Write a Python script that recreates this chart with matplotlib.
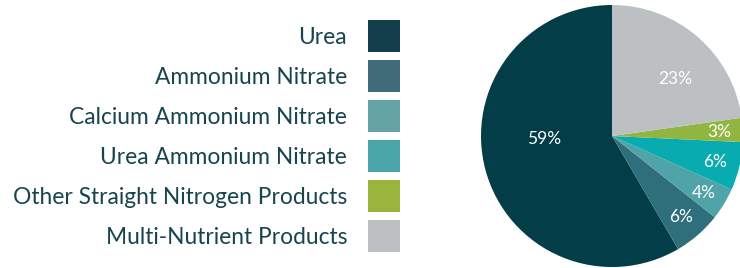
import numpy as np
import matplotlib.pyplot as plt
from matplotlib.patches import Rectangle

plt.rcParams['font.family'] = ['Lato', 'DejaVu Sans']

# data
labels = ['Urea', 'Ammonium Nitrate', 'Calcium Ammonium Nitrate',
          'Urea Ammonium Nitrate', 'Other Straight Nitrogen Products',
          'Multi-Nutrient Products']
shares = [59, 6, 4, 6, 3, 23]
pie_colors = ['#023d48', '#2e6f7b', '#50a3a6', '#08acb0', '#90b541', '#bcc0c3']
legend_colors = ['#123f49', '#416d7b', '#64a3a4', '#4ba6aa', '#9ab43c', '#bcc0c3']
# label placement (radius, angle override in degrees)
label_dist = [0.52, 0.80, 0.82, 0.81, 0.82, 0.66]
label_ang = [181, None, None, None, None, 43]
text_color = '#17444f'

W, H = 740, 268
fig = plt.figure(figsize=(W / 100, H / 100), dpi=100)

# pie
cx, cy, r = 612, 136, 131
ax = fig.add_axes([(cx - r) / W, (H - cy - r) / H, 2 * r / W, 2 * r / H])
wedges, _, pcts = ax.pie(shares, colors=pie_colors, startangle=90,
                         counterclock=True, autopct='%d%%', pctdistance=0.7,
                         wedgeprops=dict(linewidth=0),
                         textprops=dict(color='white', fontsize=12.5))
for w, t, d, a, s in zip(wedges, pcts, label_dist, label_ang, shares):
    ang = (w.theta1 + w.theta2) / 2 if a is None else a
    ang = np.deg2rad(ang)
    t.set_position((d * np.cos(ang), d * np.sin(ang)))
    t.set_text(f'{s}%')
    t.set_va('center_baseline')
ax.set_xlim(-1, 1)
ax.set_ylim(-1, 1)
ax.axis('off')

# legend
lax = fig.add_axes([0, 0, 1, 1])
lax.set_xlim(0, W)
lax.set_ylim(H, 0)
lax.axis('off')
for i, (lab, c) in enumerate(zip(labels, legend_colors)):
    yc = 36 + 40 * i
    lax.add_patch(Rectangle((368, yc - 16), 32, 32, color=c, lw=0))
    lax.text(347, yc - 1, lab, ha='right', va='center_baseline',
             fontsize=16.4, color=text_color)

fig.savefig('out.png', dpi=100)
